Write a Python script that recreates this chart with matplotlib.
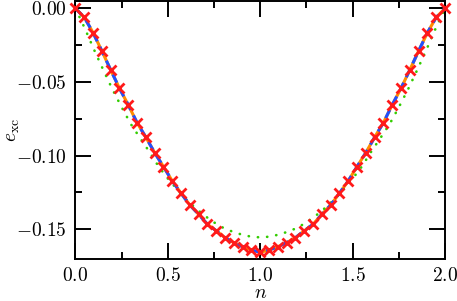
import numpy as np
import matplotlib
matplotlib.use("Agg")
import matplotlib.pyplot as plt
from matplotlib.ticker import MultipleLocator, FormatStrFormatter

plt.rcParams['mathtext.fontset'] = 'cm'
plt.rcParams['font.family'] = 'serif'

# Data; symmetric about n = 1
n_left = np.linspace(0.0, 1.0, 22)
exc_left = [0.0, -0.0060, -0.0165, -0.0289, -0.0418, -0.0543, -0.0656, -0.0777,
            -0.0876, -0.0981, -0.1076, -0.1173, -0.1257, -0.1337, -0.1400, -0.1468,
            -0.1512, -0.1559, -0.1593, -0.1620, -0.1643, -0.1658]
n_vals = np.concatenate([n_left, 2.0 - n_left[-2::-1]])
exc_vals = np.array(exc_left + exc_left[-2::-1])

ng_left = [0.0, 0.05, 0.10, 0.15, 0.20, 0.25, 0.30, 0.35, 0.40, 0.45, 0.50,
           0.55, 0.60, 0.65, 0.70, 0.75, 0.80, 0.85, 0.90, 0.95, 1.00]
green_left = [0.0, -0.0134, -0.0279, -0.0417, -0.0550, -0.0672, -0.0787, -0.0882,
              -0.0975, -0.1075, -0.1157, -0.1230, -0.1300, -0.1358, -0.1410,
              -0.1455, -0.1492, -0.1518, -0.1538, -0.1552, -0.1557]
ng_vals = np.concatenate([ng_left, 2.0 - np.array(ng_left[-2::-1])])
green_vals = np.array(green_left + green_left[-2::-1])

xticks = [0.0, 0.5, 1.0, 1.5, 2.0]
yticks = [0.00, -0.05, -0.10, -0.15]

fig = plt.figure(figsize=(4.57, 3.01), dpi=100)
ax = fig.add_axes([0.1652, 0.1395, 0.9737 - 0.1652, 0.9967 - 0.1395])

ax.plot(n_vals, exc_vals, color='#ff8c00', lw=2.2, solid_capstyle='butt', zorder=2)
ax.plot(n_vals, exc_vals, color='#2050ff', lw=2.2, ls=(0, (3, 2)), zorder=3)
ax.plot(ng_vals, green_vals, color='#33cc00', lw=1.9, ls=(0, (0.1, 3.4)),
        dash_capstyle='round', zorder=2.5)
ax.plot(n_vals, exc_vals, ls='none', marker='x', color='#ff1a1a', ms=7.5, mew=2.0, zorder=4,
        clip_on=False)

ax.set_xlim(0.0, 2.0)
ax.set_ylim(-0.1704, 0.0051)
ax.set_xticks(xticks)
ax.set_yticks(yticks)
ax.xaxis.set_minor_locator(MultipleLocator(0.25))
ax.yaxis.set_minor_locator(MultipleLocator(0.025))
ax.xaxis.set_major_formatter(FormatStrFormatter('$%.1f$'))
ax.yaxis.set_major_formatter(FormatStrFormatter('$%.2f$'))
ax.tick_params(which='both', direction='in', top=True, right=True, width=1.4,
               labelsize=14)
ax.tick_params(which='major', length=11.5, pad=6)
ax.tick_params(which='minor', length=5)
for s in ax.spines.values():
    s.set_linewidth(1.4)

ax.set_xlabel('$n$', fontsize=14)
ax.xaxis.label.set_va('center')
ax.xaxis.set_label_coords(0.5, -0.13)
ax.set_ylabel(r'$e_{\rm xc}$', fontsize=14)
ax.yaxis.label.set_va('center')
ax.yaxis.set_label_coords(-0.17, 0.5)

fig.savefig('out.png', dpi=100)
